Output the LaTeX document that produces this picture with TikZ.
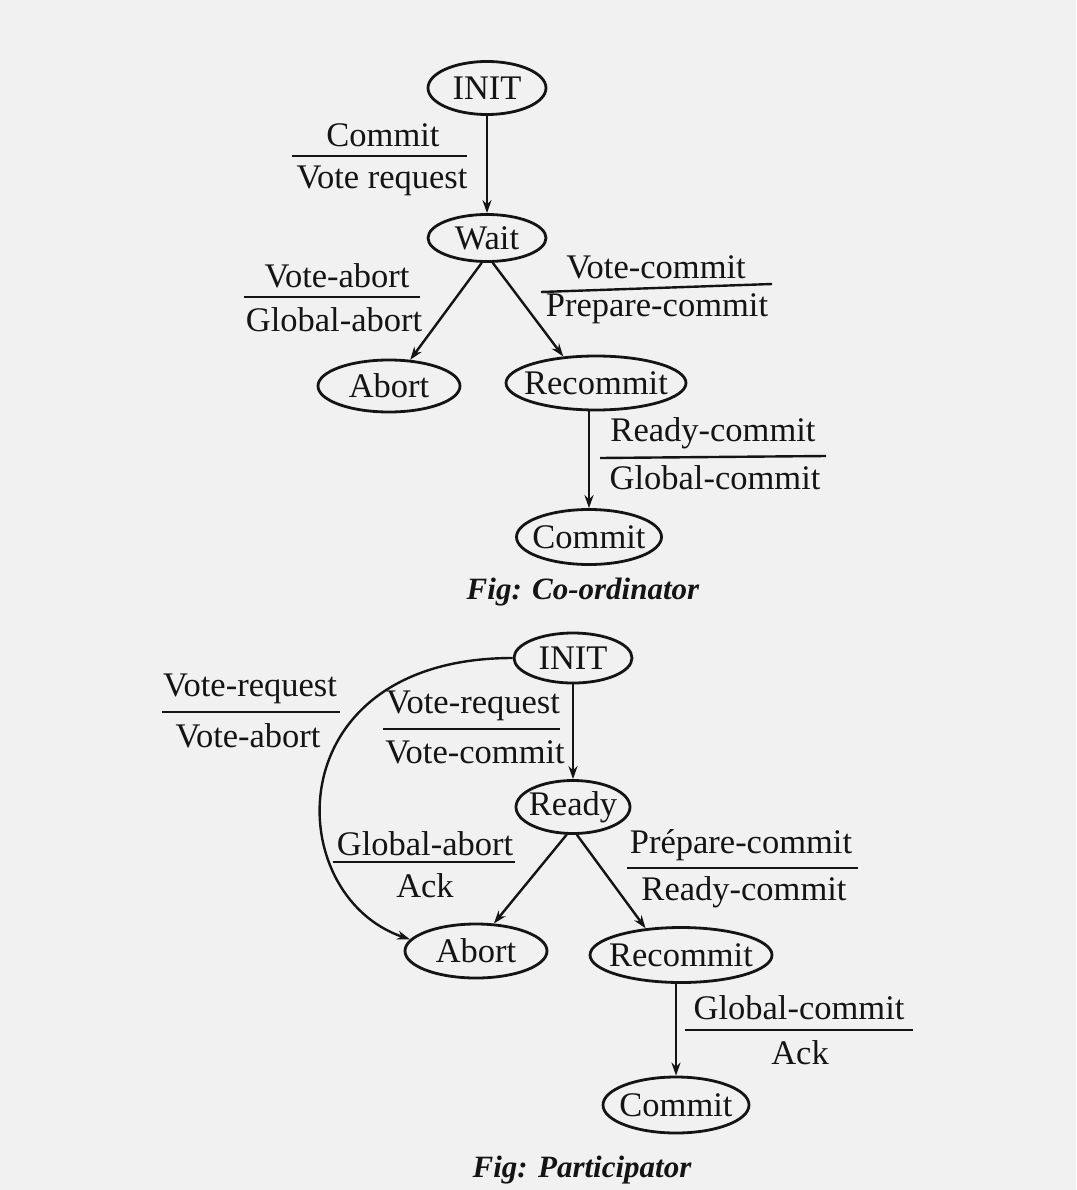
\documentclass[tikz,border=0pt]{standalone}
\usepackage{fontspec}
\setmainfont{Liberation Serif}
\usetikzlibrary{arrows.meta,shapes.geometric}
\definecolor{paper}{RGB}{241,241,241}
\definecolor{ink}{RGB}{20,20,20}
\begin{document}
\begin{tikzpicture}[x=1pt,y=-1pt,
  every node/.style={font=\fontsize{34.5}{40}\selectfont, inner sep=0pt, text=ink},
  st/.style n args={3}{ellipse, draw=ink, line width=2.8pt, minimum width=#1, minimum height=#2, label={center:#3}},
  arr/.style={draw=ink, line width=2.4pt, -{Stealth[length=13pt,width=9pt]}},
  bar/.style={draw=ink, line width=2.4pt},
  figcap/.style={font=\fontsize{31}{36}\selectfont\bfseries\itshape}]
\fill[paper] (0,0) rectangle (1076,1190);
\useasboundingbox (0,0) rectangle (1076,1190);

% ---------- Co-ordinator ----------
\node[st={118}{53}{INIT}] (ci) at (487,88) {};
\node[st={118}{47}{Wait}] (cw) at (487,238) {};
\node[st={142}{52}{Abort}] (ca) at (389,386) {};
\node[st={180}{54}{Recommit}] (cr) at (596,383) {};
\node[st={145}{55}{Commit}] (cc) at (589,537) {};

\draw[arr] (ci) -- (cw);
\draw[arr] (cw.258) -- (ca.51);
\draw[arr] (cw.283) -- (cr.141);
\draw[arr] (cc |- cr.south) -- (cc.north);

\node (t1a) at (383,135) {Commit};
\draw[bar] (292,156) -- (467,156);
\node (t1b) at (382,181) {Vote request};

\node (t2a) at (337,276) {Vote-abort};
\draw[bar] (244,297) -- (420,297);
\node (t2b) at (334,320) {Global-abort};

\node (t3a) at (656,267) {Vote-commit};
\draw[bar] (541,292) -- (772,284);
\node (t3b) at (657,309) {Prepare-commit};

\node (t4a) at (713,433) {Ready-commit};
\draw[bar] (600,458) -- (826,456);
\node (t4b) at (715,478) {Global-commit};

\node[figcap] (cap1) at (583,592) {Fig: Co-ordinator};

% ---------- Participator ----------
\node[st={118}{50}{INIT}] (pi) at (573,658) {};
\node[st={114}{53}{Ready}] (pr) at (573,807) {};
\node[st={142}{54}{Abort}] (pa) at (476,951) {};
\node[st={182}{55}{Recommit}] (prc) at (681,955) {};
\node[st={146}{56}{Commit}] (pc) at (676,1105) {};

\draw[arr] (pi) -- (pr);
\draw[arr] (pr.257) -- (pa.57);
\draw[arr] (pr.278) -- (prc.143);
\draw[arr] (pc |- prc.south) -- (pc.north);
\draw[arr] (pi.west) .. controls (275,658) and (280,895) .. (pa.170);

\node (u1a) at (250,689) {Vote-request};
\draw[bar] (162,712) -- (340,712);
\node (u1b) at (248,736) {Vote-abort};

\node (u2a) at (473,706) {Vote-request};
\draw[bar] (383,729) -- (560,729);
\node (u2b) at (475,752) {Vote-commit};

\node (u3a) at (425,844) {Global-abort};
\draw[bar] (333,862) -- (515,862);
\node (u3b) at (425,886) {Ack};

\node (u4a) at (741,845) {Prépare-commit};
\draw[bar] (627,868) -- (858,868);
\node (u4b) at (744,892) {Ready-commit};

\node (u5a) at (799,1008) {Global-commit};
\draw[bar] (685,1030) -- (913,1030);
\node (u5b) at (800,1053) {Ack};

\node[figcap] (cap2) at (582,1170) {Fig: Participator};
\end{tikzpicture}
\end{document}
